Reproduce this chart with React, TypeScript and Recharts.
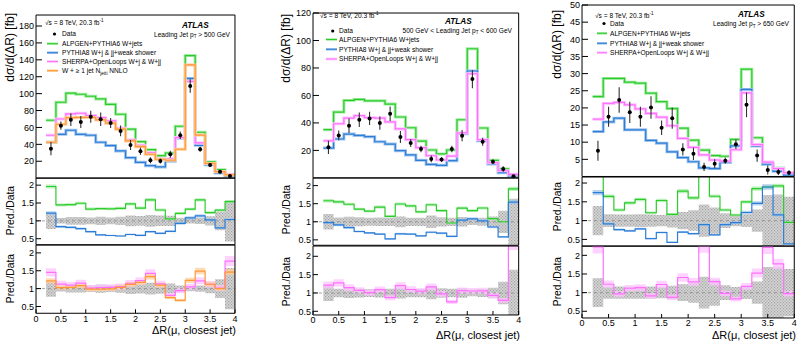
import React from 'react';
import { ComposedChart, Line, Area, Scatter, ErrorBar, XAxis, YAxis, ReferenceLine } from 'recharts';

const FONT = '"Liberation Sans", Arial, Helvetica, sans-serif';

// ΔR(μ, closest jet) binning: 19 bins of width 0.2 from 0.2 to 4.0
const binEdges = [0.2, 0.4, 0.6, 0.8, 1.0, 1.2, 1.4, 1.6, 1.8, 2.0, 2.2, 2.4, 2.6, 2.8, 3.0, 3.2, 3.4, 3.6, 3.8, 4.0];
const binCenters = [0.3, 0.5, 0.7, 0.9, 1.1, 1.3, 1.5, 1.7, 1.9, 2.1, 2.3, 2.5, 2.7, 2.9, 3.1, 3.3, 3.5, 3.7, 3.9];
const xMajorTicks = [0, 0.5, 1, 1.5, 2, 2.5, 3, 3.5, 4];
const ratioMajorTicks = [0.5, 1, 1.5, 2];

// Leading jet pT > 500 GeV  [fb]
const data500 = [34.9, 62.1, 69.2, 66.5, 72.8, 69.7, 65.3, 55.9, 39.3, 31.8, 21.2, 20.4, 28.3, 50.8, 109, 34.2, 15.6, 7.7, 2.6];
const err500 = [7.9, 4.8, 7.5, 7.1, 7.1, 8.0, 6.0, 6.3, 6.0, 4.3, 3.5, 3.0, 4.0, 4.5, 8.0, 3.0, 2.0, 2.0, 1.5];
const alpgen500 = [68.5, 89.8, 100.5, 99.3, 96.9, 93.7, 87.4, 75.6, 57.9, 43.2, 33.7, 26.6, 29.8, 61.4, 145, 54.3, 19.2, 10.0, 4.0];
const pythia500 = [42.5, 51.9, 56.7, 51.9, 50.8, 42.5, 38.5, 32.2, 24.3, 18.8, 14.8, 13.3, 20.0, 47.2, 118, 38.9, 16.0, 6.2, 2.7];
const sherpa500 = [50.8, 70.0, 76.0, 76.8, 74.0, 71.6, 67.7, 59.0, 45.2, 38.9, 30.2, 23.1, 23.0, 48.0, 114.5, 41.7, 17.5, 7.8, 4.6];
const nnlo500 = [42.5, 63.8, 71.6, 71.9, 71.9, 68.9, 65.0, 57.9, 44.0, 37.3, 28.3, 22.4, 21.2, 34.2, 134, 51.0, 17.5, 7.7, 3.8];

// 500 GeV < leading jet pT < 600 GeV  [fb]
const data550 = [22.2, 30.9, 38.0, 42.3, 43.3, 39.9, 46.7, 29.7, 25.4, 21.0, 13.8, 13.3, 21.0, 30.7, 71.9, 26.3, 11.8, 6.5, 1.1];
const err550 = [4.8, 3.6, 5.3, 5.3, 4.8, 4.8, 5.3, 4.4, 2.9, 2.4, 2.4, 1.7, 2.4, 4.1, 6.6, 2.9, 1.7, 2.0, 0.7];
const alpgen550 = [35.1, 47.9, 56.4, 57.1, 56.1, 56.1, 53.7, 44.3, 36.5, 26.8, 20.3, 17.4, 20.3, 42.3, 94.0, 36.3, 12.8, 6.5, 2.1];
const pythia550 = [21.7, 28.3, 31.9, 30.9, 30.0, 26.3, 24.6, 19.8, 16.7, 12.8, 9.8, 9.1, 12.5, 32.1, 77.8, 27.0, 10.1, 3.8, 1.7];
const sherpa550 = [27.0, 39.4, 43.5, 45.3, 43.8, 43.5, 40.7, 35.6, 27.8, 22.0, 16.1, 13.0, 15.9, 32.7, 75.8, 27.8, 11.0, 5.2, 2.6];

// Leading jet pT > 650 GeV  [fb]
const data650 = [7.5, 17.4, 22.3, 18.7, 17.4, 20.1, 14.2, 17.0, 7.9, 6.6, 2.8, 3.7, 4.6, 9.4, 20.9, 6.1, 1.9, 1.3, 1.1];
const err650 = [2.9, 2.9, 3.7, 3.1, 2.9, 3.3, 2.1, 3.1, 1.8, 1.8, 1.2, 1.3, 0.9, 1.4, 3.6, 1.8, 1.3, 0.9, 0.7];
const alpgen650 = [23.3, 28.6, 28.6, 27.5, 27.2, 24.3, 21.8, 19.8, 14.1, 10.6, 7.7, 6.1, 5.9, 10.8, 31.3, 11.3, 3.6, 2.5, 1.05];
const pythia650 = [13.1, 15.9, 17.0, 13.6, 13.6, 10.5, 9.7, 7.2, 5.5, 4.3, 2.5, 2.3, 4.1, 8.9, 25.4, 8.9, 3.6, 1.5, 0.42];
const sherpa650 = [16.7, 21.3, 21.6, 20.9, 19.7, 18.4, 17.3, 14.8, 11.1, 8.5, 6.3, 4.8, 4.5, 7.8, 24.4, 9.3, 4.2, 2.3, 1.07];

type ModelKey = 'alpgen' | 'pythia' | 'sherpa' | 'nnlo';

const MODEL_STYLE: Record<ModelKey, { line: string; band: string; unc: number }> = {
  alpgen: { line: '#2ccb2c', band: '#a4eca4', unc: 0.03 },
  pythia: { line: '#2b7dd6', band: '#a0c4ee', unc: 0.04 },
  sherpa: { line: '#ff70ff', band: '#ffc4ff', unc: 0.08 },
  nnlo: { line: '#ff9838', band: '#ffcf9c', unc: 0.06 },
};

const range = (start: number, stop: number, step: number) => {
  const out: number[] = [];
  const n = Math.round((stop - start) / step);
  for (let i = 0; i <= n; i++) out.push(Math.round((start + i * step) * 1000) / 1000);
  return out;
};
const xMinorTicks = range(0, 4, 0.1);

const binAt = (i: number) => Math.min(i, binCenters.length - 1);

function mainRows(models: Partial<Record<ModelKey, number[]>>) {
  return binEdges.map((x, i) => {
    const row: Record<string, number> = { x };
    (Object.keys(models) as ModelKey[]).forEach((k) => {
      row[k] = (models[k] as number[])[binAt(i)];
    });
    return row;
  });
}

function ratioRows(models: Partial<Record<ModelKey, number[]>>, data: number[], err: number[]) {
  return binEdges.map((x, i) => {
    const b = binAt(i);
    const rel = err[b] / data[b];
    const row: Record<string, number | number[]> = { x, unc: [1 - rel, 1 + rel] };
    (Object.keys(models) as ModelKey[]).forEach((k) => {
      const r = (models[k] as number[])[b] / data[b];
      const u = MODEL_STYLE[k].unc;
      row[k] = r;
      row[k + 'Band'] = [r * (1 - u), r * (1 + u)];
    });
    return row;
  });
}

const pointRows = (data: number[], err: number[]) => binCenters.map((x, i) => ({ x, y: data[i], e: err[i] }));

type Frame = { x0: number; x1: number; y0: number; y1: number };

interface AxisOpts {
  yDomain: [number, number];
  yMajor: number[];
  yMinor: number[];
  xLabels: boolean;
  xLen: [number, number];
  yLen: [number, number];
}

const tickStyle = { fontSize: 9, fill: '#000', fontFamily: FONT };
// axes are drawn with a near-zero footprint so every tick sits on the frame edge
const THIN = 0.01;

function frameAxes(o: AxisOpts) {
  const ax = { stroke: '#000', strokeWidth: 1 };
  return [
    <XAxis key="xb" xAxisId="b" orientation="bottom" type="number" dataKey="x" domain={[0, 4]} allowDataOverflow
      ticks={xMajorTicks} interval={0} height={THIN} tickSize={-o.xLen[0]} tickMargin={o.xLen[0] + 2}
      tick={o.xLabels ? tickStyle : false} axisLine={ax} tickLine={ax} />,
    <XAxis key="xbm" xAxisId="bm" orientation="bottom" type="number" dataKey="x" domain={[0, 4]} allowDataOverflow
      ticks={xMinorTicks} interval={0} height={THIN} tickSize={-o.xLen[1]} tick={false} axisLine={false} tickLine={ax} />,
    <XAxis key="xt" xAxisId="t" orientation="top" type="number" dataKey="x" domain={[0, 4]} allowDataOverflow
      ticks={xMajorTicks} interval={0} height={THIN} tickSize={-o.xLen[0]} tick={false} axisLine={ax} tickLine={ax} />,
    <XAxis key="xtm" xAxisId="tm" orientation="top" type="number" dataKey="x" domain={[0, 4]} allowDataOverflow
      ticks={xMinorTicks} interval={0} height={THIN} tickSize={-o.xLen[1]} tick={false} axisLine={false} tickLine={ax} />,
    <YAxis key="yl" yAxisId="l" orientation="left" type="number" domain={o.yDomain} allowDataOverflow
      ticks={o.yMajor} interval={0} width={THIN} tickSize={-o.yLen[0]} tickMargin={o.yLen[0] + 2}
      tick={tickStyle} axisLine={ax} tickLine={ax} />,
    <YAxis key="ylm" yAxisId="lm" orientation="left" type="number" domain={o.yDomain} allowDataOverflow
      ticks={o.yMinor} interval={0} width={THIN} tickSize={-o.yLen[1]} tick={false} axisLine={false} tickLine={ax} />,
    <YAxis key="yr" yAxisId="r" orientation="right" type="number" domain={o.yDomain} allowDataOverflow
      ticks={o.yMajor} interval={0} width={THIN} tickSize={-o.yLen[0]} tick={false} axisLine={ax} tickLine={ax} />,
    <YAxis key="yrm" yAxisId="rm" orientation="right" type="number" domain={o.yDomain} allowDataOverflow
      ticks={o.yMinor} interval={0} width={THIN} tickSize={-o.yLen[1]} tick={false} axisLine={false} tickLine={ax} />,
  ];
}

const PAD = { l: 36, r: 6, t: 7, b: 7, bLabels: 16 };

function Pad({ uid, frame, axis, rows, children }: { uid: string; frame: Frame; axis: AxisOpts; rows: object[]; children: React.ReactNode }) {
  const padB = axis.xLabels ? PAD.bLabels : PAD.b;
  const width = frame.x1 - frame.x0 + PAD.l + PAD.r;
  const height = frame.y1 - frame.y0 + PAD.t + padB;
  return (
    <div style={{ position: 'absolute', left: frame.x0 - PAD.l, top: frame.y0 - PAD.t, width, height }}>
      <ComposedChart width={width} height={height} data={rows} margin={{ top: PAD.t, right: PAD.r, bottom: padB, left: PAD.l }}>
        <defs>
          <pattern id={`hatch-${uid}`} width="3" height="3" patternUnits="userSpaceOnUse">
            <rect width="3" height="3" fill="#d6d6d6" />
            <rect width="1.2" height="1.2" fill="#a2a2a2" />
            <rect x="1.5" y="1.5" width="1.2" height="1.2" fill="#a2a2a2" />
          </pattern>
        </defs>
        {frameAxes(axis)}
        {children}
      </ComposedChart>
    </div>
  );
}

function modelLines(keys: ModelKey[]) {
  const out: React.ReactNode[] = [];
  keys.forEach((k) => {
    out.push(
      <Line key={k + '-band'} xAxisId="b" yAxisId="l" dataKey={k} type="stepAfter" stroke={MODEL_STYLE[k].band}
        strokeWidth={3} dot={false} activeDot={false} isAnimationActive={false} />,
    );
    out.push(
      <Line key={k + '-line'} xAxisId="b" yAxisId="l" dataKey={k} type="stepAfter" stroke={MODEL_STYLE[k].line}
        strokeWidth={1.2} dot={false} activeDot={false} isAnimationActive={false} />,
    );
  });
  return out;
}

function ratioSeries(uid: string, keys: ModelKey[]) {
  const out: React.ReactNode[] = [
    <Area key="unc" xAxisId="b" yAxisId="l" dataKey="unc" type="stepAfter" stroke="none"
      fill={`url(#hatch-${uid})`} fillOpacity={1} isAnimationActive={false} dot={false} activeDot={false} />,
    <ReferenceLine key="one" xAxisId="b" yAxisId="l" y={1} stroke="#8a8a8a" strokeWidth={0.8} strokeDasharray="3 3" />,
  ];
  keys.forEach((k) => {
    out.push(
      <Area key={k + '-band'} xAxisId="b" yAxisId="l" dataKey={k + 'Band'} type="stepAfter" stroke="none"
        fill={MODEL_STYLE[k].band} fillOpacity={0.75} isAnimationActive={false} dot={false} activeDot={false} />,
    );
  });
  keys.forEach((k) => {
    out.push(
      <Line key={k + '-line'} xAxisId="b" yAxisId="l" dataKey={k} type="stepAfter" stroke={MODEL_STYLE[k].line}
        strokeWidth={1.2} dot={false} activeDot={false} isAnimationActive={false} />,
    );
  });
  return out;
}

const DataDot = (p: { cx?: number; cy?: number }) =>
  p.cx == null || p.cy == null ? <g /> : <circle cx={p.cx} cy={p.cy} r={2} fill="#000" />;

interface PanelSpec {
  uid: string;
  x0: number;
  x1: number;
  main: { y0: number; y1: number; domain: [number, number]; major: number[]; minor: number[] };
  r1: { y0: number; y1: number; domain: [number, number] };
  r2: { y0: number; y1: number; domain: [number, number] };
  data: number[];
  err: number[];
  upper: Partial<Record<ModelKey, number[]>>;
  lower: Partial<Record<ModelKey, number[]>>;
}

const ratioMinor = (d: [number, number]) => range(0.1, 2.4, 0.1).filter((v) => v >= d[0] && v <= d[1]);

const PANELS: PanelSpec[] = [
  {
    uid: 'a', x0: 36, x1: 235,
    main: { y0: 15, y1: 178.2, domain: [0, 193], major: range(20, 180, 20), minor: range(0, 192, 4) },
    r1: { y0: 178.2, y1: 245, domain: [0.33, 2.2] },
    r2: { y0: 245, y1: 313.3, domain: [0.31, 2.22] },
    data: data500, err: err500,
    upper: { alpgen: alpgen500, pythia: pythia500 },
    lower: { sherpa: sherpa500, nnlo: nnlo500 },
  },
  {
    uid: 'b', x0: 313.3, x1: 519,
    main: { y0: 13.3, y1: 178.2, domain: [0, 120], major: range(20, 120, 20), minor: range(0, 120, 4) },
    r1: { y0: 178.2, y1: 245.5, domain: [0.35, 2.21] },
    r2: { y0: 245.5, y1: 314.5, domain: [0.4, 2.28] },
    data: data550, err: err550,
    upper: { alpgen: alpgen550, pythia: pythia550 },
    lower: { sherpa: sherpa550 },
  },
  {
    uid: 'c', x0: 581.7, x1: 794,
    main: { y0: 5, y1: 176.5, domain: [0, 50], major: range(5, 50, 5), minor: range(0, 50, 1) },
    r1: { y0: 176.5, y1: 245.7, domain: [0.32, 2.16] },
    r2: { y0: 245.7, y1: 317.7, domain: [0.32, 2.25] },
    data: data650, err: err650,
    upper: { alpgen: alpgen650, pythia: pythia650 },
    lower: { sherpa: sherpa650 },
  },
];

function PanelCharts({ p }: { p: PanelSpec }) {
  const allModels = { ...p.upper, ...p.lower };
  const keys = Object.keys(allModels) as ModelKey[];
  const upperKeys = Object.keys(p.upper) as ModelKey[];
  const lowerKeys = Object.keys(p.lower) as ModelKey[];
  return (
    <>
      <Pad uid={p.uid + 'm'} frame={{ x0: p.x0, x1: p.x1, y0: p.main.y0, y1: p.main.y1 }}
        axis={{ yDomain: p.main.domain, yMajor: p.main.major, yMinor: p.main.minor, xLabels: false, xLen: [5, 2.5], yLen: [6, 3] }}
        rows={mainRows(allModels)}>
        {modelLines(keys)}
        <Scatter xAxisId="b" yAxisId="l" data={pointRows(p.data, p.err)} dataKey="y" shape={DataDot} isAnimationActive={false}>
          <ErrorBar dataKey="e" direction="y" width={0} stroke="#333" strokeWidth={1.1} />
        </Scatter>
      </Pad>
      <Pad uid={p.uid + 'r1'} frame={{ x0: p.x0, x1: p.x1, y0: p.r1.y0, y1: p.r1.y1 }}
        axis={{ yDomain: p.r1.domain, yMajor: ratioMajorTicks, yMinor: ratioMinor(p.r1.domain), xLabels: false, xLen: [4, 2], yLen: [5, 2.5] }}
        rows={ratioRows(p.upper, p.data, p.err)}>
        {ratioSeries(p.uid + 'r1', upperKeys)}
      </Pad>
      <Pad uid={p.uid + 'r2'} frame={{ x0: p.x0, x1: p.x1, y0: p.r2.y0, y1: p.r2.y1 }}
        axis={{ yDomain: p.r2.domain, yMajor: ratioMajorTicks, yMinor: ratioMinor(p.r2.domain), xLabels: true, xLen: [4, 2], yLen: [5, 2.5] }}
        rows={ratioRows(p.lower, p.data, p.err)}>
        {ratioSeries(p.uid + 'r2', lowerKeys)}
      </Pad>
    </>
  );
}

const LEGEND_LABELS: Record<ModelKey, React.ReactNode> = {
  alpgen: 'ALPGEN+PYTHIA6 W+jets',
  pythia: 'PYTHIA8 W+j & jj+weak shower',
  sherpa: 'SHERPA+OpenLoops W+j & W+jj',
  nnlo: (
    <>
      W + ≥ 1 jet N<tspan dy={1.6} fontSize={4.6}>jetti</tspan>
      <tspan dy={-1.6}> NNLO</tspan>
    </>
  ),
};

interface Annot {
  titleX: number;
  ratioTitleTop: [number, number];
  mainTitleTop: number;
  xTitle: { x: number; y: number };
  lumi: { x: number; y: number };
  dataRow: { x: number; y: number };
  rows: { key: ModelKey; y: number }[];
  lineX: [number, number];
  textX: number;
  atlas: { x: number; y: number };
  region: { x: number; y: number; node: React.ReactNode };
}

const pT = (
  <>
    p<tspan dy={1.6} fontSize={4.6}>T</tspan>
    <tspan dy={-1.6}> </tspan>
  </>
);

const ANNOTS: Annot[] = [
  {
    titleX: 14, mainTitleTop: 13, ratioTitleTop: [186, 254],
    xTitle: { x: 236, y: 334 },
    lumi: { x: 45, y: 24.5 },
    dataRow: { x: 54.5, y: 34 },
    rows: [{ key: 'alpgen', y: 43.7 }, { key: 'pythia', y: 52.7 }, { key: 'sherpa', y: 61.5 }, { key: 'nnlo', y: 70.7 }],
    lineX: [47, 58], textX: 62,
    atlas: { x: 182, y: 28 },
    region: { x: 230, y: 36.5, node: <>Leading Jet {pT}&gt; 500 GeV</> },
  },
  {
    titleX: 290, mainTitleTop: 14, ratioTitleTop: [185, 257],
    xTitle: { x: 520, y: 338.5 },
    lumi: { x: 320, y: 17.5 },
    dataRow: { x: 332.7, y: 31 },
    rows: [{ key: 'alpgen', y: 39.5 }, { key: 'pythia', y: 49.3 }, { key: 'sherpa', y: 59 }],
    lineX: [326, 337], textX: 339,
    atlas: { x: 445, y: 23.5 },
    region: { x: 512, y: 32.5, node: <>500 GeV &lt; Leading Jet {pT}&lt; 600 GeV</> },
  },
  {
    titleX: 561, mainTitleTop: 10, ratioTitleTop: [182, 257],
    xTitle: { x: 796, y: 338.5 },
    lumi: { x: 595, y: 17.5 },
    dataRow: { x: 604, y: 23.5 },
    rows: [{ key: 'alpgen', y: 33.3 }, { key: 'pythia', y: 43.3 }, { key: 'sherpa', y: 52.7 }],
    lineX: [597, 607], textX: 610,
    atlas: { x: 738, y: 17 },
    region: { x: 789, y: 26, node: <>Leading Jet {pT}&gt; 650 GeV</> },
  },
];

const LFS = 6.6;

function Annotations() {
  return (
    <svg width={797} height={341} style={{ position: 'absolute', left: 0, top: 0, pointerEvents: 'none' }} fontFamily={FONT}>
      {ANNOTS.map((a, i) => (
        <g key={i}>
          <text transform={`translate(${a.titleX},${a.mainTitleTop}) rotate(-90)`} textAnchor="end" fontSize={12}>
            dσ/d(ΔR) [fb]
          </text>
          {a.ratioTitleTop.map((t, j) => (
            <text key={j} transform={`translate(${a.titleX},${t}) rotate(-90)`} textAnchor="end" fontSize={10.3}>
              Pred./Data
            </text>
          ))}
          <text x={a.xTitle.x} y={a.xTitle.y} textAnchor="end" fontSize={11}>
            ΔR(μ, closest jet)
          </text>
          <text x={a.lumi.x} y={a.lumi.y} fontSize={LFS}>
            √s = 8 TeV, 20.3 fb<tspan dy={-2.6} fontSize={4.6}>-1</tspan>
          </text>
          <circle cx={a.dataRow.x} cy={a.dataRow.y} r={1.6} fill="#000" />
          <text x={a.textX} y={a.dataRow.y + 2.3} fontSize={LFS}>Data</text>
          {a.rows.map((r) => (
            <g key={r.key}>
              <line x1={a.lineX[0]} x2={a.lineX[1]} y1={r.y} y2={r.y} stroke={MODEL_STYLE[r.key].band} strokeWidth={2.6} />
              <line x1={a.lineX[0]} x2={a.lineX[1]} y1={r.y} y2={r.y} stroke={MODEL_STYLE[r.key].line} strokeWidth={1} />
              <text x={a.textX} y={r.y + 2.3} fontSize={LFS}>{LEGEND_LABELS[r.key]}</text>
            </g>
          ))}
          <text x={a.atlas.x} y={a.atlas.y} fontSize={8.2} fontWeight="bold" fontStyle="italic">ATLAS</text>
          <text x={a.region.x} y={a.region.y} textAnchor="end" fontSize={LFS}>{a.region.node}</text>
        </g>
      ))}
    </svg>
  );
}

export default function App() {
  return (
    <div style={{ position: 'absolute', left: 0, top: 0, width: 797, height: 341, background: '#fff', overflow: 'hidden', fontFamily: FONT }}>
      {PANELS.map((p) => (
        <PanelCharts key={p.uid} p={p} />
      ))}
      <Annotations />
    </div>
  );
}
